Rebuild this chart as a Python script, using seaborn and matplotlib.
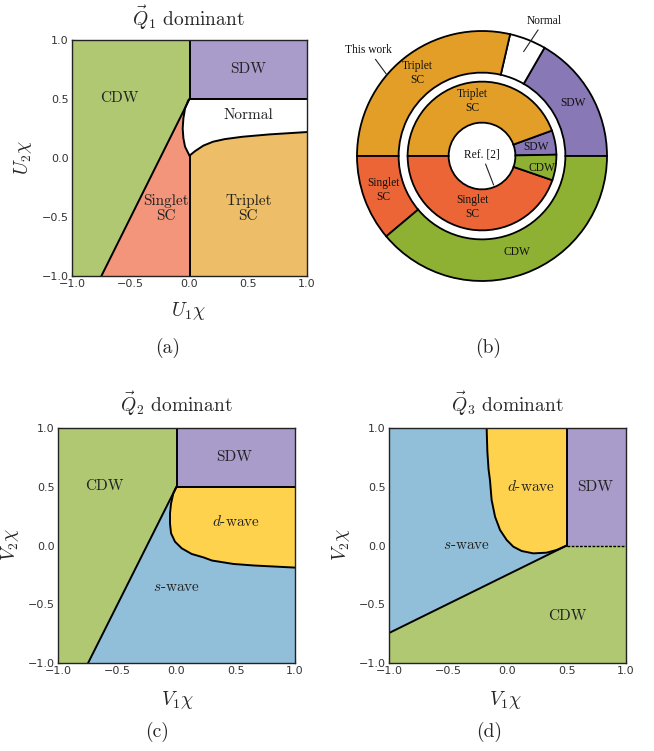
import numpy as np
import matplotlib
matplotlib.use("Agg")
import matplotlib.pyplot as plt
import seaborn as sns

# ---- data ----
# panel (a): Q1 dominant, boundaries in (U1chi, U2chi)
a_cdw_x = [-0.75, 0.0]
a_cdw_y = [-1.0, 0.5]
a_left_x = [0.0, -0.01, -0.038, -0.052, -0.058, -0.052, -0.038, -0.01, 0.0]   # singlet / normal, top -> cusp
a_left_y = [0.5, 0.49, 0.42, 0.336, 0.25, 0.167, 0.096, 0.04, 0.02]
a_right_x = [0.0, 0.047, 0.118, 0.2, 0.3, 0.45, 0.68, 1.0]                  # normal / triplet, cusp -> right
a_right_y = [0.02, 0.058, 0.105, 0.138, 0.16, 0.18, 0.2, 0.22]

# panel (c): Q2 dominant
c_cdw_x = [-0.746, 0.0]
c_cdw_y = [-1.0, 0.5]
c_d_x = [0.0, -0.027, -0.046, -0.055, -0.055, -0.046, -0.013, 0.044, 0.128, 0.227, 0.3, 0.48, 0.65, 1.0]
c_d_y = [0.5, 0.443, 0.358, 0.273, 0.188, 0.104, 0.033, -0.024, -0.072, -0.101, -0.128, -0.157, -0.17, -0.188]

# panel (d): Q3 dominant
d_cdw_x = [-1.0, 0.5]
d_cdw_y = [-0.745, 0.0]
d_d_x = [-0.176, -0.17, -0.16, -0.148, -0.134, -0.105, -0.063, -0.007, 0.049, 0.12, 0.218, 0.33, 0.415, 0.5]
d_d_y = [1.0, 0.8, 0.65, 0.557, 0.387, 0.245, 0.132, 0.047, -0.01, -0.047, -0.067, -0.061, -0.038, 0.0]

# panel (b): share of phase diagram (degrees of the ring)
outer_labels = ["SDW", "Normal", "Triplet\nSC", "Singlet\nSC", "CDW"]
outer_vals = [60, 17, 103, 40, 140]
inner_labels = ["SDW", "Triplet\nSC", "Singlet\nSC", "CDW"]
inner_vals = [19, 160, 161, 20]

# colours
ph = {"CDW": "#B0C872", "SDW": "#A99CCB", "Singlet": "#F3957A", "Triplet": "#EDBD67",
      "s": "#91BFDA", "d": "#FFD24E", "Normal": "#FFFFFF"}
pie_col = {"SDW": "#8878B6", "Normal": "#FFFFFF", "Triplet\nSC": "#E29E27",
           "Singlet\nSC": "#EB6536", "CDW": "#8EB133"}

sns.set_style("ticks")
plt.rcParams["mathtext.fontset"] = "cm"
plt.rcParams["font.family"] = ["DejaVu Sans"]

W, H = 654, 751
fig = plt.figure(figsize=(W / 100, H / 100), dpi=100)


def box(l, t, r, b):
    return [l / W, 1 - b / H, (r - l) / W, (b - t) / H]


def ftext(x, y, s, size=14, rot=0):
    fig.text(x / W, 1 - y / H, s, ha="center", va="center", fontsize=size,
             family="cmr10", rotation=rot)


def style_axes(ax):
    ax.set_xlim(-1, 1)
    ax.set_ylim(-1, 1)
    ax.set_xticks([-1, -0.5, 0, 0.5, 1])
    ax.set_yticks([-1, -0.5, 0, 0.5, 1])
    ax.set_xticklabels(["\u22121.0", "\u22120.5", "0.0", "0.5", "1.0"])
    ax.set_yticklabels(["\u22121.0", "\u22120.5", "0.0", "0.5", "1.0"])
    ax.tick_params(direction="in", length=3, width=0.8, labelsize=8, pad=2.5,
                   colors="#333333", top=False, right=False)
    for s in ax.spines.values():
        s.set_color("#222222")
        s.set_linewidth(1.0)
        s.set_zorder(5)


def line(ax, xs, ys, **kw):
    kw.setdefault("lw", 1.4)
    sns.lineplot(x=xs, y=ys, sort=False, estimator=None, color="k", ax=ax, **kw)


def label(ax, x, y, s):
    ax.text(x, y, s, ha="center", va="center", fontsize=11, family="cmr10",
            color="#222222", linespacing=1.1)


cat = np.concatenate

# ---------------- (a) ----------------
axa = fig.add_axes(box(72, 40, 307, 276))
axa.fill(cat([[-1], a_cdw_x, [0, -1]]), cat([[-1], a_cdw_y, [1, 1]]), color=ph["CDW"], lw=0)
axa.fill(cat([a_cdw_x, a_left_x, [0]]), cat([a_cdw_y, a_left_y, [-1]]), color=ph["Singlet"], lw=0)
axa.fill(cat([a_left_x, a_right_x, [1]]), cat([a_left_y, a_right_y, [0.5]]), color=ph["Normal"], lw=0)
axa.fill(cat([a_right_x, [1, 0]]), cat([a_right_y, [-1, -1]]), color=ph["Triplet"], lw=0)
axa.fill([0, 1, 1, 0], [0.5, 0.5, 1, 1], color=ph["SDW"], lw=0)
line(axa, a_cdw_x, a_cdw_y)
line(axa, a_left_x, a_left_y)
line(axa, a_right_x, a_right_y)
line(axa, [0, 0], [-1, a_right_y[0]])
line(axa, [0, 0, 1], [1, 0.5, 0.5])
style_axes(axa)
label(axa, -0.6, 0.51, "CDW")
label(axa, 0.5, 0.754, "SDW")
label(axa, 0.5, 0.36, "Normal")
label(axa, -0.2, -0.43, "Singlet\nSC")
label(axa, 0.5, -0.43, "Triplet\nSC")
ftext(188, 18, r"$\vec{Q}_1$ dominant")
ftext(188, 311, r"$U_1\chi$")
ftext(23, 158, r"$U_2\chi$", rot=90)
ftext(168, 348, "(a)")

# ---------------- (b) ----------------
axb = fig.add_axes(box(357, 31, 607, 281))
wp = dict(edgecolor="k", linewidth=1.3)
w1, _ = axb.pie(outer_vals, radius=1.0, startangle=0, counterclock=True,
                colors=[pie_col[k] for k in outer_labels],
                wedgeprops=dict(width=0.333, **wp))
w2, _ = axb.pie(inner_vals, radius=0.595, startangle=1, counterclock=True,
                colors=[pie_col[k] for k in inner_labels],
                wedgeprops=dict(width=0.328, **wp))
for w in list(w1) + list(w2):
    w.set_clip_on(False)
axb.set_xlim(-1, 1)
axb.set_ylim(-1, 1)
axb.set_aspect("equal")
axb.axis("off")
pfont = dict(ha="center", va="center", fontsize=8.3, family="Liberation Serif",
             color="#111111", linespacing=1.2)
for s, (x, y) in zip(["Triplet\nSC", "SDW", "Singlet\nSC", "CDW"],
                     [(-0.515, 0.667), (0.725, 0.427), (-0.787, -0.272), (0.28, -0.77)]):
    axb.text(x, y, s, **pfont)
for s, (x, y) in zip(["Triplet\nSC", "SDW", "CDW", "Singlet\nSC"],
                     [(-0.075, 0.44), (0.432, 0.074), (0.48, -0.098), (-0.08, -0.405)]):
    axb.text(x, y, s, **pfont)
arrow = dict(arrowstyle="-", color="#222222", lw=0.8, shrinkA=0, shrinkB=0)
axb.annotate("Ref. [2]", xy=(0.093, -0.232), xytext=(0.0, 0.01), arrowprops=arrow, **pfont)
axb.annotate("This work", xy=(-0.766, 0.656), xytext=(-0.907, 0.848), arrowprops=arrow, **pfont)
axb.annotate("Normal", xy=(0.333, 0.835), xytext=(0.498, 1.083), arrowprops=arrow, **pfont)
ftext(488, 348, "(b)")

# ---------------- (c) ----------------
axc = fig.add_axes(box(58, 428, 295, 663))
axc.fill(cat([[-1], c_cdw_x, [0, -1]]), cat([[-1], c_cdw_y, [1, 1]]), color=ph["CDW"], lw=0)
axc.fill(cat([c_cdw_x, c_d_x, [1]]), cat([c_cdw_y, c_d_y, [-1]]), color=ph["s"], lw=0)
axc.fill(cat([c_d_x, [1]]), cat([c_d_y, [0.5]]), color=ph["d"], lw=0)
axc.fill([0, 1, 1, 0], [0.5, 0.5, 1, 1], color=ph["SDW"], lw=0)
line(axc, c_cdw_x, c_cdw_y)
line(axc, c_d_x, c_d_y)
line(axc, [0, 0, 1], [1, 0.5, 0.5])
style_axes(axc)
label(axc, -0.61, 0.505, "CDW")
label(axc, 0.49, 0.748, "SDW")
label(axc, 0.5, 0.2, r"$d$-wave")
label(axc, 0.0, -0.355, r"$s$-wave")
ftext(176, 404, r"$\vec{Q}_2$ dominant")
ftext(177, 700, r"$V_1\chi$")
ftext(10, 545, r"$V_2\chi$", rot=90)
ftext(157, 732, "(c)")

# ---------------- (d) ----------------
axd = fig.add_axes(box(389, 428, 626, 663))
axd.fill(cat([[-1, -1, 1], [1, 0.5], d_cdw_x[::-1]]),
         cat([[-0.745, -1, -1], [0, 0], d_cdw_y[::-1]]), color=ph["CDW"], lw=0)
axd.fill(cat([d_cdw_x[::-1], [-1], d_d_x]), cat([d_cdw_y[::-1], [1], d_d_y]), color=ph["s"], lw=0)
axd.fill(cat([d_d_x, [0.5]]), cat([d_d_y, [1]]), color=ph["d"], lw=0)
axd.fill([0.5, 1, 1, 0.5], [0, 0, 1, 1], color=ph["SDW"], lw=0)
line(axd, d_cdw_x, d_cdw_y)
line(axd, d_d_x, d_d_y)
line(axd, [0.5, 0.5], [0, 1])
line(axd, [0.5, 1], [0, 0], lw=1.0, ls=(0, (2, 1)))
style_axes(axd)
label(axd, -0.346, 0.0, r"$s$-wave")
label(axd, 0.2, 0.5, r"$d$-wave")
label(axd, 0.738, 0.5, "SDW")
label(axd, 0.504, -0.598, "CDW")
ftext(507, 404, r"$\vec{Q}_3$ dominant")
ftext(505, 700, r"$V_1\chi$")
ftext(341, 545, r"$V_2\chi$", rot=90)
ftext(489, 732, "(d)")

fig.savefig("out.png", dpi=100)
